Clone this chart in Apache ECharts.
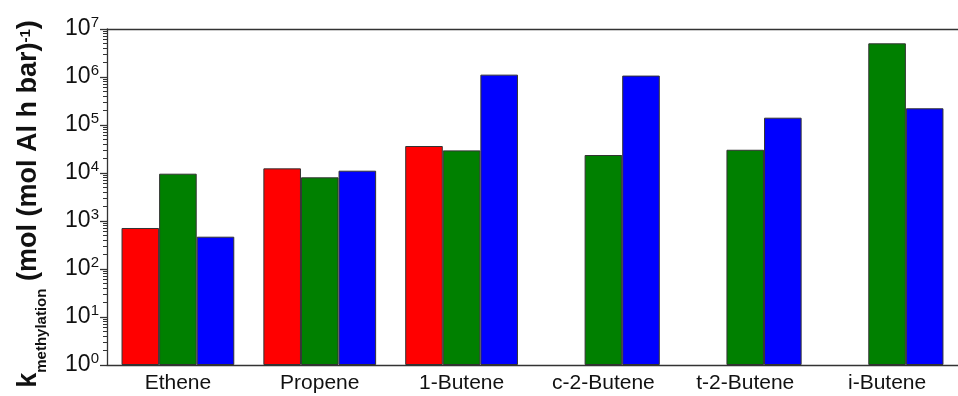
<!DOCTYPE html>
<html>
<head>
<meta charset="utf-8">
<script src="https://cdn.jsdelivr.net/npm/echarts@6/dist/echarts.min.js"></script>
<style>
  html, body { margin: 0; padding: 0; background: #fff; }
  #chart { width: 958px; height: 396px; }
</style>
</head>
<body>
<div id="chart"></div>
<script>
const categories = ['Ethene', 'Propene', '1-Butene', 'c-2-Butene', 't-2-Butene', 'i-Butene'];
const redValues = [715, 12500, 36500, null, null, null];
const greenValues = [9670, 8130, 29600, 23700, 30500, 5030000];
const blueValues = [471, 11170, 1120000, 1070000, 142000, 223000];
const yTicks = [1, 10, 100, 1000, 10000, 100000, 1000000, 10000000];

// log minor ticks 2..9 in every decade
const yMinorTicks = [];
for (let i = 0; i < yTicks.length - 1; i++) {
  for (let m = 2; m <= 9; m++) yMinorTicks.push(yTicks[i] * m);
}

const FONT = '"Liberation Sans", Arial, sans-serif';
const LINE = '#333';

const chart = echarts.init(document.getElementById('chart'));

const bar = (name, data, color) => ({
  name,
  type: 'bar',
  data,
  xAxisIndex: 0,
  yAxisIndex: 0,
  barWidth: '26.5%',
  barGap: '0%',
  itemStyle: { color, borderColor: '#333', borderWidth: 1 }
});

const option = {
  animation: false,
  grid: { left: 107, top: 29, width: 861, height: 336, containLabel: false },
  xAxis: [
    {
      type: 'category', data: categories, position: 'bottom',
      axisLine: { lineStyle: { color: LINE, width: 1.3 } },
      axisTick: { alignWithLabel: true, length: 7, lineStyle: { color: LINE, width: 1.3 } },
      axisLabel: { fontFamily: FONT, fontSize: 21, color: '#111', margin: 8 }
    },
    {
      type: 'category', data: categories, position: 'bottom',
      axisLine: { show: false },
      axisTick: { alignWithLabel: false, length: 4, lineStyle: { color: LINE, width: 1.3 } },
      axisLabel: { show: false }
    },
    {
      type: 'category', data: categories, position: 'top',
      axisLine: { lineStyle: { color: LINE, width: 1.3 } },
      axisTick: { alignWithLabel: true, inside: true, length: 6, lineStyle: { color: LINE, width: 1.3 } },
      axisLabel: { show: false }
    },
    {
      type: 'category', data: categories, position: 'top',
      axisLine: { show: false },
      axisTick: { alignWithLabel: false, inside: true, length: 3, lineStyle: { color: LINE, width: 1.3 } },
      axisLabel: { show: false }
    }
  ],
  yAxis: [
    {
      type: 'log', logBase: 10, min: 1, max: 1e7, position: 'left',
      axisLine: { show: true, lineStyle: { color: LINE, width: 1.3 } },
      axisTick: { show: true, length: 7, customValues: yTicks, lineStyle: { color: LINE, width: 1.3 } },
      splitLine: { show: false },
      axisLabel: {
        customValues: yTicks,
        margin: 8,
        formatter: v => '{b|10}{s|' + Math.round(Math.log10(v)) + '}',
        rich: {
          b: { fontFamily: FONT, fontSize: 23, color: '#111' },
          s: { fontFamily: FONT, fontSize: 15, color: '#111', padding: [0, 0, 12, 0] }
        }
      },
      name: '{m|k}{sub|methylation}{m| (mol (mol Al h bar)}{sup|-1}{m|)}',
      nameLocation: 'middle',
      nameRotate: 90,
      nameGap: 58,
      nameTextStyle: {
        padding: [0, 14, 0, 0],
        rich: {
          m: { fontFamily: FONT, fontSize: 27, fontWeight: 'bold', color: '#111' },
          sub: { fontFamily: FONT, fontSize: 15, fontWeight: 'bold', color: '#111', padding: [26, 0, 0, 0] },
          sup: { fontFamily: FONT, fontSize: 15, fontWeight: 'bold', color: '#111', padding: [0, 0, 5, 0] }
        }
      }
    },
    {
      type: 'log', logBase: 10, min: 1, max: 1e7, position: 'left',
      axisLine: { show: false },
      axisTick: { show: true, length: 4, customValues: yMinorTicks, lineStyle: { color: LINE, width: 1 } },
      axisLabel: { show: false },
      splitLine: { show: false }
    }
  ],
  series: [
    bar('red', redValues, '#ff0000'),
    bar('green', greenValues, '#008000'),
    bar('blue', blueValues, '#0000ff')
  ]
};

chart.setOption(option);
</script>
</body>
</html>
